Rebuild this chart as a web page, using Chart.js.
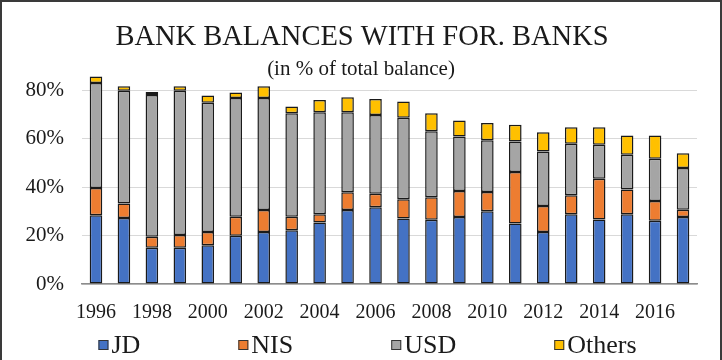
<!DOCTYPE html>
<html>
<head>
<meta charset="utf-8">
<script src="https://cdn.jsdelivr.net/npm/chart.js@4.4.1/dist/chart.umd.min.js"></script>
<style>
  body { margin: 0; background: #fff; }
  #caixa { position: relative; width: 722px; height: 360px; }
  #moldura {
    position: absolute; left: 0; top: 0; width: 722px; height: 360px;
    box-sizing: border-box; border: 2px solid #3a3a3a; border-bottom: none;
    pointer-events: none;
  }
</style>
</head>
<body>
<div id="caixa">
  <canvas id="saldos" width="722" height="360"></canvas>
  <div id="moldura"></div>
</div>
<script>
var anos = ["1996", "1997", "1998", "1999", "2000", "2001", "2002", "2003", "2004", "2005", "2006",
            "2007", "2008", "2009", "2010", "2011", "2012", "2013", "2014", "2015", "2016", "2017"];
var jd     = [28.4, 27.2, 15.0, 15.0, 16.0, 19.9, 21.5, 22.2, 25.4, 30.6, 31.7, 27.0, 26.5, 27.7, 30.0, 25.0, 21.5, 28.8, 26.6, 28.8, 26.1, 27.7];
var nis    = [11.2, 6.0, 4.5, 5.2, 5.5, 7.9, 9.1, 5.6, 3.4, 7.3, 5.6, 8.0, 9.3, 10.7, 8.0, 21.2, 10.7, 7.8, 16.9, 10.2, 8.2, 3.0];
var usd    = [43.4, 46.6, 58.5, 59.6, 53.3, 49.0, 46.2, 42.7, 42.1, 33.0, 32.5, 33.6, 27.3, 22.5, 21.3, 12.6, 22.5, 21.3, 14.0, 14.4, 17.4, 17.2];
var others = [2.7, 1.8, 1.3, 1.8, 3.0, 2.3, 4.8, 2.8, 5.1, 6.2, 6.6, 6.7, 7.4, 6.6, 7.2, 6.9, 7.9, 6.8, 7.2, 7.9, 9.6, 6.1];
var ticks_y = [0, 20, 40, 60, 80];

var titulo = "BANK BALANCES WITH FOR. BANKS";
var subtitulo = "(in % of total balance)";
var serif = "'Liberation Serif', 'Times New Roman', serif";

// titulo e legenda desenhados a mao, o espaco do Excel nao cabe no layout do Chart.js
var textos = {
  id: "textos",
  afterDraw: (chart) => {
    var c = chart.ctx;
    c.save();
    c.fillStyle = "#1a1a1a";
    c.textAlign = "center";
    c.textBaseline = "middle";
    c.font = "28.5px " + serif;
    c.fillText(titulo, 362, 38);
    c.font = "21px " + serif;
    c.fillText(subtitulo, 361, 69);

    c.font = "26px " + serif;
    c.textAlign = "left";
    var sets = chart.data.datasets;
    var larguras = sets.map((d) => 14 + c.measureText(d.label).width);
    var espaco = 97;
    var total = larguras.reduce((a, b) => a + b, 0) + espaco * (sets.length - 1);
    var x = 368 - total / 2;
    var y = 345;
    sets.forEach((d, i) => {
      c.fillStyle = d.backgroundColor;
      c.fillRect(x, y - 5, 10, 10);
      c.strokeStyle = "#333";
      c.lineWidth = 1;
      c.strokeRect(x + 0.5, y - 4.5, 9, 9);
      c.fillStyle = "#1a1a1a";
      c.fillText(d.label, x + 13, y + 1);
      x += larguras[i] + espaco;
    });
    c.restore();
  }
};

var serie = (label, valores, cor) => ({
  label: label,
  data: valores,
  backgroundColor: cor,
  borderColor: "#1a1a1a",
  borderWidth: 1.5,
  borderSkipped: false,
  barPercentage: 0.45,
  categoryPercentage: 1
});

var ctx = document.getElementById("saldos");
var myChart = new Chart(ctx, {
  type: "bar",
  data: {
    labels: anos,
    datasets: [
      serie("JD", jd, "#4472C4"),
      serie("NIS", nis, "#ED7D31"),
      serie("USD", usd, "#A5A5A5"),
      serie("Others", others, "#FFC000")
    ]
  },
  options: {
    responsive: false,
    animation: false,
    layout: { padding: { top: 66, right: 25, left: 0, bottom: 0 } },
    plugins: {
      legend: { display: false },
      title: { display: false },
      tooltip: { enabled: false }
    },
    scales: {
      x: {
        stacked: true,
        grid: { display: false, drawTicks: false },
        border: { display: true, color: "#8c8c8c", width: 1.5 },
        afterFit: (s) => { s.height = 76; },
        ticks: {
          autoSkip: false,
          maxRotation: 0,
          padding: 17,
          color: "#1a1a1a",
          font: { family: serif, size: 20 },
          callback: (v, i) => (i % 2 === 0 ? anos[i] : "")
        }
      },
      y: {
        stacked: true,
        min: 0,
        max: 90,
        grid: { color: "#d9d9d9", lineWidth: 1, drawTicks: false },
        border: { display: false },
        afterFit: (s) => { s.width = 82; },
        afterBuildTicks: (s) => {
          s.ticks = ticks_y.map((v) => ({ value: v }));
        },
        ticks: {
          padding: 18,
          color: "#1a1a1a",
          font: { family: serif, size: 21 },
          callback: (v) => v + "%"
        }
      }
    }
  },
  plugins: [textos]
});
</script>
</body>
</html>
